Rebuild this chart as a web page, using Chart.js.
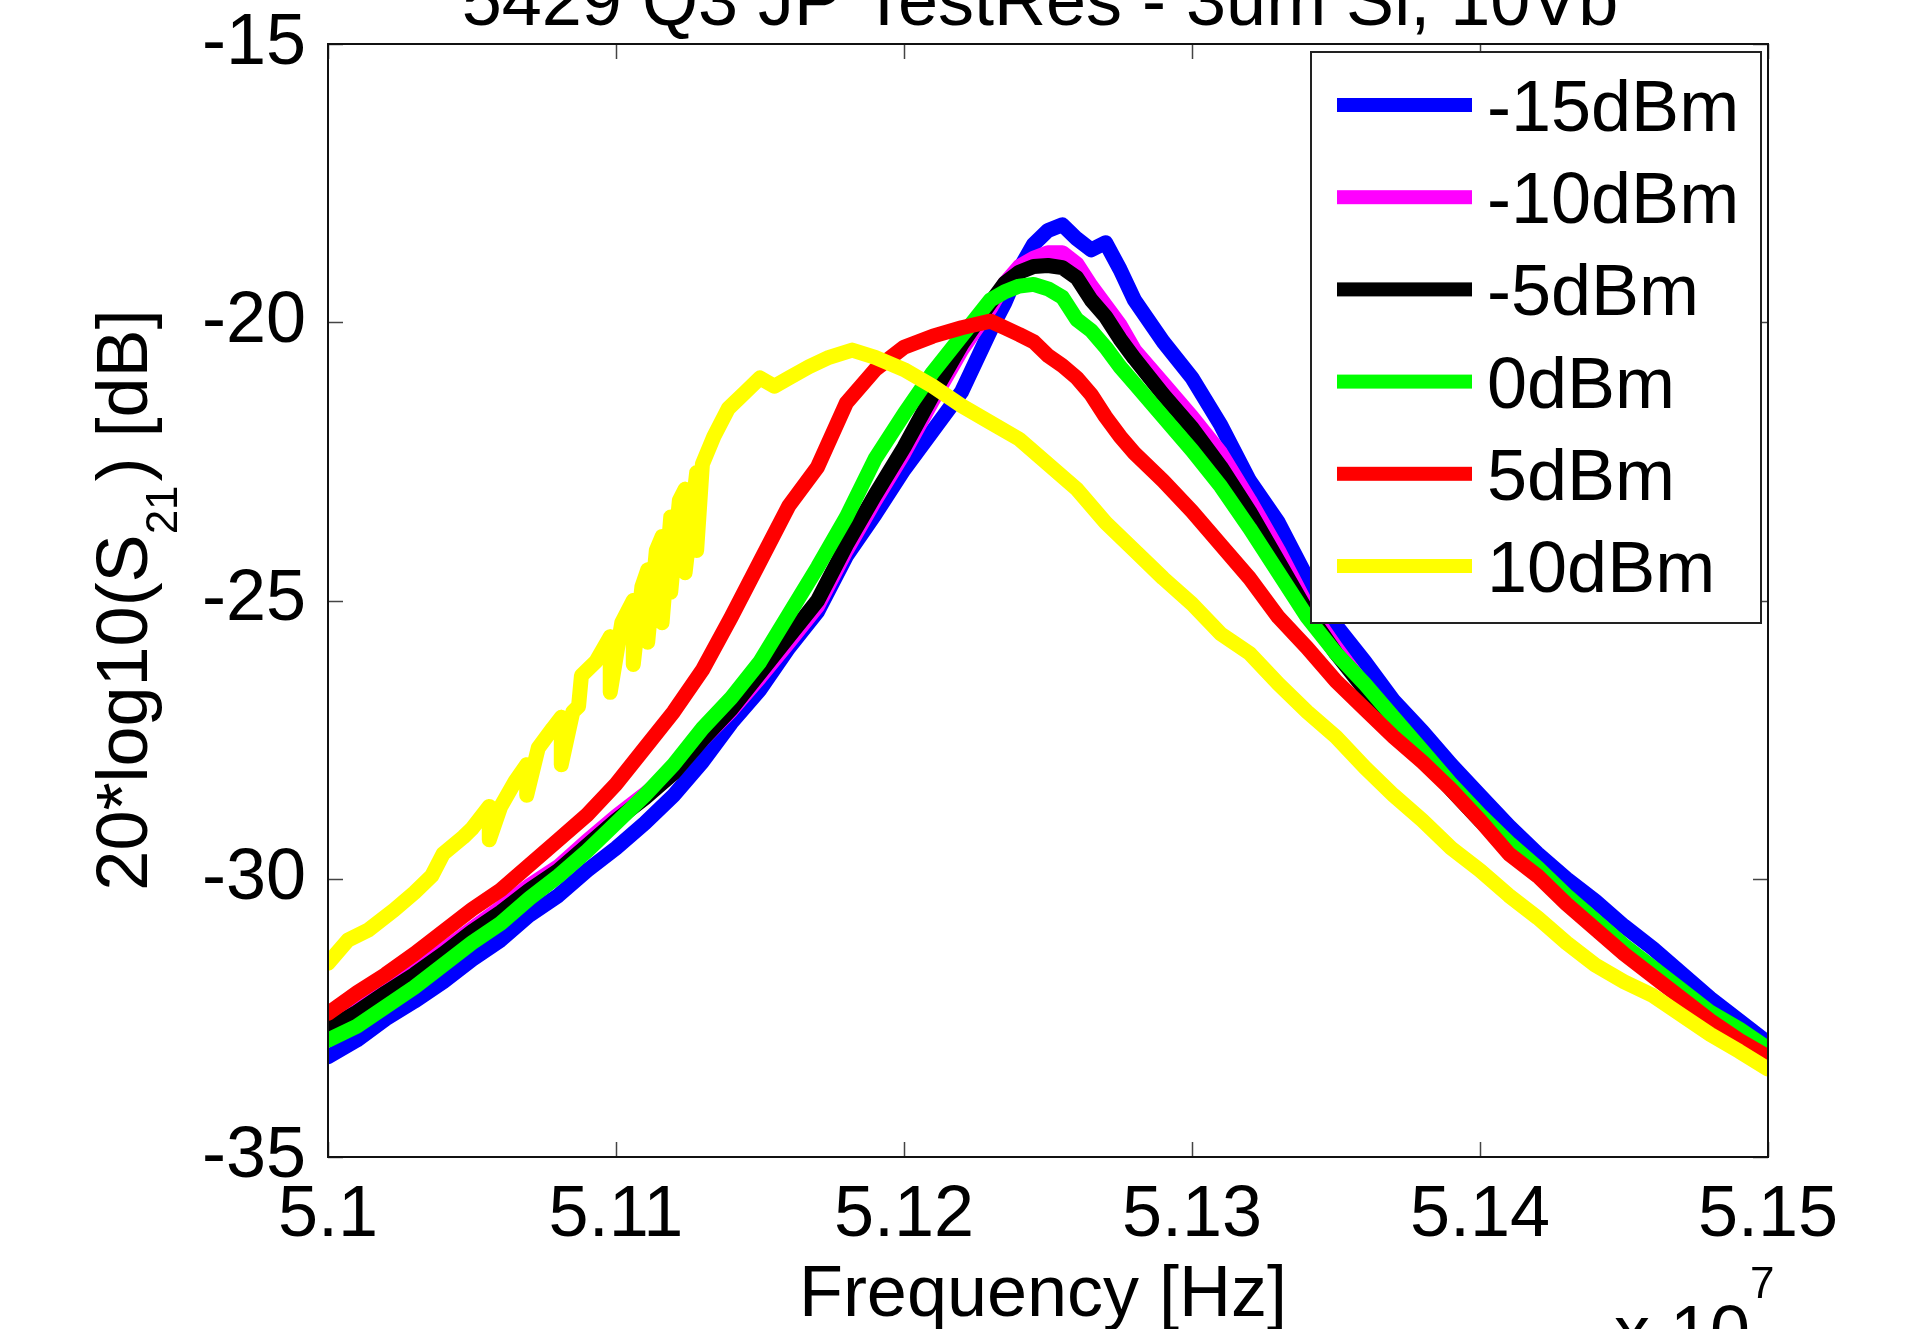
<!DOCTYPE html>
<html>
<head>
<meta charset="utf-8">
<script src="https://cdn.jsdelivr.net/npm/chart.js@4.4.1/dist/chart.umd.min.js"></script>
<style>
  html, body { margin: 0; padding: 0; background: #fff; }
  #wrap { width: 1905px; height: 1329px; }
</style>
</head>
<body>
<div id="wrap"><canvas id="c" width="1905" height="1329"></canvas></div>
<script>
const FONT = "'Liberation Sans', Arial, Helvetica, sans-serif";

// frequency in units of 1e7 Hz (axis shows "x 10^7")
const freq = [5.100,5.101,5.102,5.103,5.104,5.105,5.106,5.107,5.108,5.109,
  5.110,5.111,5.112,5.113,5.114,5.115,5.116,5.117,5.118,5.119,
  5.120,5.121,5.122,5.123,5.1235,5.124,5.1245,5.125,5.1255,5.126,
  5.1265,5.127,5.1275,5.128,5.129,5.130,5.131,5.132,5.133,5.134,
  5.135,5.136,5.137,5.138,5.139,5.140,5.141,5.142,5.143,5.144,
  5.145,5.146,5.147,5.148,5.149,5.150];

// 20*log10(S21) [dB] per drive power
const s21_m15 = [-33.2,-32.9,-32.52,-32.2,-31.85,-31.45,-31.1,-30.65,-30.3,-29.85,
  -29.45,-29.0,-28.5,-27.9,-27.2,-26.6,-25.85,-25.2,-24.2,-23.45,
  -22.65,-21.95,-21.25,-20.15,-19.65,-19.05,-18.6,-18.35,-18.25,-18.5,
  -18.7,-18.57,-19.05,-19.6,-20.35,-21.0,-21.85,-22.85,-23.6,-24.6,
  -25.45,-26.1,-26.8,-27.35,-27.95,-28.5,-29.05,-29.55,-30.0,-30.4,
  -30.85,-31.25,-31.7,-32.15,-32.55,-32.95];
const s21_m10 = [-32.62,-32.32,-31.98,-31.65,-31.28,-30.9,-30.52,-30.12,-29.78,-29.32,
  -28.88,-28.48,-28.05,-27.5,-26.98,-26.38,-25.75,-25.1,-24.1,-23.2,
  -22.35,-21.4,-20.5,-19.75,-19.3,-19.0,-18.85,-18.75,-18.75,-18.95,
  -19.35,-19.7,-20.05,-20.5,-21.1,-21.7,-22.35,-23.2,-24.1,-25.1,
  -25.85,-26.55,-27.15,-27.75,-28.35,-28.9,-29.4,-29.85,-30.35,-30.8,
  -31.25,-31.65,-32.05,-32.45,-32.75,-33.1];
const s21_m5 = [-32.7,-32.4,-32.05,-31.72,-31.35,-30.95,-30.6,-30.2,-29.85,-29.4,
  -28.95,-28.55,-28.1,-27.5,-26.95,-26.3,-25.65,-25.0,-24.0,-23.1,
  -22.25,-21.3,-20.4,-19.65,-19.3,-19.1,-19.0,-18.98,-19.02,-19.2,
  -19.6,-19.9,-20.3,-20.65,-21.3,-21.9,-22.6,-23.4,-24.3,-25.2,
  -25.95,-26.6,-27.2,-27.8,-28.4,-28.95,-29.45,-29.9,-30.4,-30.85,
  -31.3,-31.7,-32.1,-32.5,-32.8,-33.15];
const s21_0 = [-32.9,-32.65,-32.3,-31.95,-31.55,-31.15,-30.8,-30.35,-29.95,-29.5,
  -29.0,-28.5,-27.95,-27.3,-26.75,-26.1,-25.25,-24.4,-23.5,-22.45,
  -21.65,-20.9,-20.25,-19.6,-19.45,-19.35,-19.32,-19.4,-19.55,-19.95,
  -20.15,-20.45,-20.8,-21.1,-21.7,-22.3,-22.95,-23.7,-24.5,-25.3,
  -25.95,-26.5,-27.1,-27.7,-28.3,-28.85,-29.35,-29.8,-30.3,-30.75,
  -31.2,-31.6,-32.0,-32.4,-32.7,-33.05];
const s21_p5 = [-32.42,-32.05,-31.72,-31.35,-30.95,-30.55,-30.2,-29.75,-29.3,-28.85,
  -28.3,-27.65,-27.0,-26.25,-25.3,-24.3,-23.3,-22.6,-21.45,-20.85,
  -20.45,-20.25,-20.1,-19.98,-20.1,-20.22,-20.35,-20.6,-20.78,-21.0,
  -21.3,-21.7,-22.05,-22.35,-22.85,-23.4,-24.0,-24.6,-25.3,-25.85,
  -26.45,-26.95,-27.45,-27.9,-28.4,-28.95,-29.55,-29.95,-30.45,-30.9,
  -31.35,-31.75,-32.15,-32.55,-32.9,-33.2];

// 10dBm trace has its own sweep points (jumpy around 5.108-5.113)
const freq_p10 = [5.1000,5.1007,5.1014,5.1023,5.1030,5.1036,5.1040,5.1047,5.1050,5.1056,
  5.1056,5.1060,5.1065,5.1069,5.1069,5.1073,5.1078,5.1081,5.1081,5.1085,
  5.1087,5.1088,5.1093,5.1098,5.1098,5.1102,5.1106,5.1106,5.1109,5.1111,
  5.1111,5.1114,5.1116,5.1116,5.1119,5.1119,5.1122,5.1124,5.1124,5.1128,
  5.1128,5.1130,5.1134,5.1139,5.1145,5.1150,5.1155,5.1160,5.1167,5.1174,
  5.1182,5.1190,5.1200,5.1210,5.1220,5.1230,5.1240,5.1250,5.1260,5.1270,
  5.1280,5.1290,5.1300,5.1310,5.1320,5.1330,5.1340,5.1350,5.1360,5.1370,
  5.1380,5.1390,5.1400,5.1410,5.1420,5.1430,5.1440,5.1450,5.1460,5.1470,
  5.1480,5.1490,5.1500];
const s21_p10 = [-31.52,-31.1,-30.92,-30.56,-30.25,-29.95,-29.55,-29.25,-29.1,-28.7,
  -29.3,-28.7,-28.25,-27.95,-28.5,-27.65,-27.3,-27.1,-27.95,-27.0,
  -26.9,-26.35,-26.1,-25.65,-26.65,-25.4,-25.0,-26.15,-24.75,-24.45,
  -25.75,-24.1,-23.85,-25.4,-23.5,-24.85,-23.2,-23.0,-24.5,-22.7,
  -24.1,-22.55,-22.05,-21.55,-21.25,-21.0,-21.15,-21.0,-20.8,-20.63,
  -20.5,-20.63,-20.85,-21.15,-21.5,-21.8,-22.1,-22.55,-23.0,-23.6,
  -24.1,-24.6,-25.06,-25.6,-25.95,-26.5,-27.0,-27.45,-28.0,-28.5,
  -28.95,-29.45,-29.85,-30.3,-30.7,-31.15,-31.55,-31.85,-32.1,-32.45,
  -32.8,-33.1,-33.42];

const labels = ['-15dBm','-10dBm','-5dBm','0dBm','5dBm','10dBm'];
const colors = ['#0000ff','#ff00ff','#000000','#00ff00','#ff0000','#ffff00'];

const xTicksMin = 5.10, xTicksMax = 5.15, xStep = 0.01;
const yMin = -35, yMax = -15, yStep = 5;

const titleText = '5429 Q3 JP TestRes - 3um Si, 10Vb';
const xTitle = 'Frequency [Hz]';

const BOX = { left: 328, top: 44, right: 1768, bottom: 1157 };
const TICK_LEN = 15;

const pts = (xs, ys) => xs.map((v, i) => ({ x: v, y: ys[i] }));

const traces = [
  pts(freq, s21_m15), pts(freq, s21_m10), pts(freq, s21_m5),
  pts(freq, s21_0), pts(freq, s21_p5), pts(freq_p10, s21_p10)
];

// first trace drawn first (underneath), like the original plot order
const datasets = traces.map((d, i) => ({
  label: labels[i], data: d,
  borderColor: colors[i], backgroundColor: colors[i],
  borderWidth: 15, pointRadius: 0, clip: 0,
  order: traces.length - i
}));

const framePlugin = {
  id: 'matlabFrame',
  afterDatasetsDraw(chart) {
    const { ctx, chartArea: a, scales: { x, y } } = chart;
    ctx.save();

    // inward ticks on all four sides
    ctx.strokeStyle = '#444'; ctx.lineWidth = 1.5;
    ctx.beginPath();
    x.ticks.forEach(t => {
      const px = Math.round(x.getPixelForValue(t.value)) + 0.5;
      ctx.moveTo(px, a.bottom); ctx.lineTo(px, a.bottom - TICK_LEN);
      ctx.moveTo(px, a.top);    ctx.lineTo(px, a.top + TICK_LEN);
    });
    y.ticks.forEach(t => {
      const py = Math.round(y.getPixelForValue(t.value)) + 0.5;
      ctx.moveTo(a.left, py);  ctx.lineTo(a.left + TICK_LEN, py);
      ctx.moveTo(a.right, py); ctx.lineTo(a.right - TICK_LEN, py);
    });
    ctx.stroke();

    ctx.strokeStyle = '#111'; ctx.lineWidth = 2;
    ctx.strokeRect(a.left, a.top, a.right - a.left, a.bottom - a.top);

    // legend box, top right inside the axes
    const L = { left: 1311, top: 52, right: 1761, bottom: 623 };
    ctx.fillStyle = '#fff';
    ctx.fillRect(L.left, L.top, L.right - L.left, L.bottom - L.top);
    ctx.strokeStyle = '#222'; ctx.lineWidth = 2;
    ctx.strokeRect(L.left, L.top, L.right - L.left, L.bottom - L.top);
    ctx.font = `72px ${FONT}`; ctx.textAlign = 'left'; ctx.textBaseline = 'alphabetic';
    chart.data.datasets.forEach((ds, i) => {
      const ry = 105 + i * 92.2;
      ctx.fillStyle = ds.borderColor;
      ctx.fillRect(1337, ry - 7, 135, 14);
      ctx.fillStyle = '#000';
      ctx.fillText(ds.label, 1487, ry + 26);
    });
    ctx.restore();
  },
  afterDraw(chart) {
    const { ctx, chartArea: a } = chart;
    const cx = (a.left + a.right) / 2;
    ctx.save();
    ctx.fillStyle = '#000';
    ctx.textBaseline = 'alphabetic';

    // title (runs off the top of the figure)
    ctx.font = `72px ${FONT}`; ctx.textAlign = 'center';
    ctx.fillText(titleText, cx - 8, 25);

    // x label
    ctx.fillText(xTitle, cx - 5, 1316);

    // exponent note
    ctx.textAlign = 'left';
    ctx.fillText('x 10', 1614, 1356);
    ctx.font = `44px ${FONT}`;
    ctx.fillText('7', 1750, 1298);

    // y label with subscript
    ctx.translate(147, 600);
    ctx.rotate(-Math.PI / 2);
    ctx.font = `72px ${FONT}`;
    const w1 = ctx.measureText('20*log10(S').width;
    const w3 = ctx.measureText(') [dB]').width;
    ctx.font = `44px ${FONT}`;
    const w2 = ctx.measureText('21').width + 4;
    let x0 = -(w1 + w2 + w3) / 2;
    ctx.font = `72px ${FONT}`;
    ctx.fillText('20*log10(S', x0, 0);
    ctx.font = `44px ${FONT}`;
    ctx.fillText('21', x0 + w1, 30);
    ctx.font = `72px ${FONT}`;
    ctx.fillText(') [dB]', x0 + w1 + w2, 0);
    ctx.restore();
  }
};

new Chart(document.getElementById('c'), {
  type: 'line',
  data: { datasets },
  options: {
    responsive: false,
    devicePixelRatio: 1,
    animation: false,
    layout: { padding: { left: 0, top: BOX.top, right: 1905 - BOX.right, bottom: 0 } },
    plugins: { legend: { display: false }, tooltip: { enabled: false }, title: { display: false } },
    elements: { line: { tension: 0, borderJoinStyle: 'round', borderCapStyle: 'round' } },
    scales: {
      x: {
        type: 'linear', min: xTicksMin, max: xTicksMax,
        afterFit: s => { s.height = 1329 - BOX.bottom; s.paddingLeft = 0; s.paddingRight = 0; },
        grid: { display: false, drawTicks: false }, border: { display: false },
        ticks: {
          stepSize: xStep, autoSkip: false, maxRotation: 0, padding: 16,
          color: '#000', font: { family: FONT, size: 72 },
          callback: v => String(+(+v).toFixed(2))
        }
      },
      y: {
        type: 'linear', min: yMin, max: yMax,
        afterFit: s => { s.width = BOX.left; s.paddingTop = 0; s.paddingBottom = 0; },
        grid: { display: false, drawTicks: false }, border: { display: false },
        ticks: {
          stepSize: yStep, autoSkip: false, padding: 22,
          color: '#000', font: { family: FONT, size: 72 }
        }
      }
    }
  },
  plugins: [framePlugin]
});
</script>
</body>
</html>
